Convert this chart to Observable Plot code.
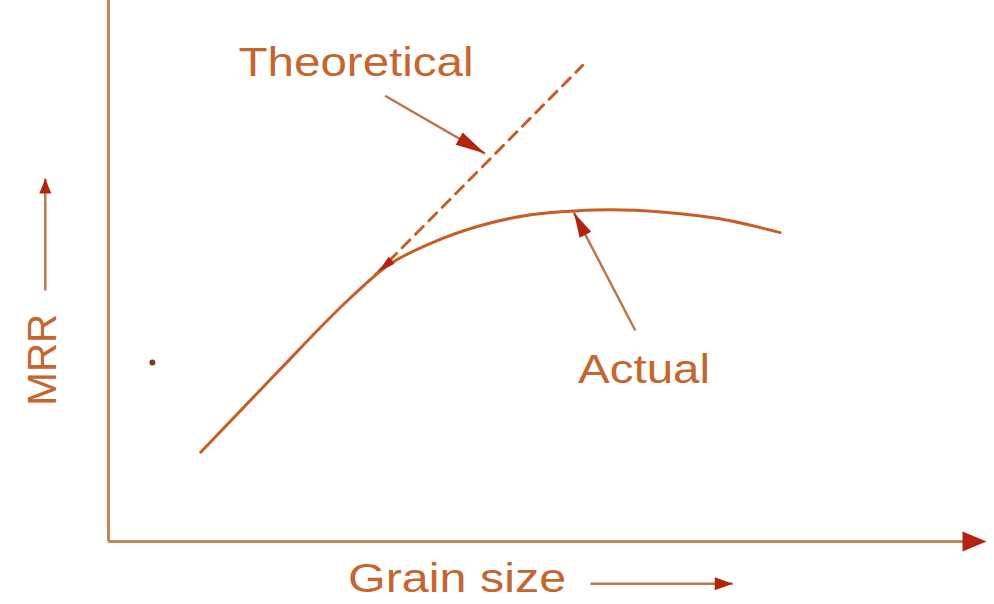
<!DOCTYPE html>
<html>
<head>
<meta charset="utf-8">
<script src="https://cdn.jsdelivr.net/npm/d3@7"></script>
<script src="https://cdn.jsdelivr.net/npm/@observablehq/plot@0.6"></script>
<style>
  body { margin: 0; background: #ffffff; }
  #chart { width: 994px; height: 604px; }
</style>
</head>
<body>
<div id="chart"></div>
<script>
// MRR against grain size, both in arbitrary units (0–100)
const grainSize = [10.5, 19.0, 27.6, 31.6, 36.7, 42.4, 48.1, 53.2, 57.2, 63.0, 70.8, 76.5];
const mrrActual = [16.5, 30.9, 45.1, 50.8, 55.1, 58.4, 60.4, 61.1, 61.3, 60.9, 59.3, 57.1];

// theoretical (linear) trend, drawn dashed
const theoryGrain = [30.4, 54.0];
const theoryMrr = [49.3, 88.0];

// stray point
const pointGrain = [5.0];
const pointMrr = [33.1];

// callout arrows: tail (x1, y1) → tip (x2, y2)
const arrowNames = ["Theoretical", "Actual", "tangent", "xAxis", "grainLabel", "mrrLabel"];
const arrowX1 = [31.5, 60.0, 32.4, 0, 54.9, -7.2];
const arrowY1 = [82.4, 39.0, 52.2, 0, -7.8, 46.4];
const arrowX2 = [42.9, 53.0, 30.7, 100, 71.1, -7.2];
const arrowY2 = [71.7, 60.8, 49.8, 0, -7.8, 67.1];

// text labels
const labelText = ["Theoretical", "Actual", "Grain size", "MRR"];
const labelX = [28.2, 61.0, 39.7, -7.4];
const labelY = [88.4, 31.6, -7.0, 33.6];

// ---- layout & style ----
const W = 994, H = 604;
const M = {top: 0, right: 8, bottom: 63, left: 108};
const kx = (W - M.left - M.right) / 100;
const ky = (H - M.top - M.bottom) / 100;

const curveColor = "#c55f28";
const axisColor = "#c4845a";
const shaftColor = "#bb7850";
const headColor = "#b3240e";
const textColor = "#c4662f";

const headStyle = {
  Theoretical: {len: 30, wid: 14},
  Actual: {len: 25, wid: 13},
  tangent: {len: 18, wid: 9},
  xAxis: {len: 24, wid: 20},
  grainLabel: {len: 18, wid: 13},
  mrrLabel: {len: 15, wid: 12}
};
const textWidth = {"Theoretical": 235, "Actual": 132, "Grain size": 218, "MRR": 92};

// build tables
const actual = grainSize.map((g, i) => ({g, m: mrrActual[i]}));
const theory = theoryGrain.map((g, i) => ({g, m: theoryMrr[i]}));
const arrows = arrowNames.map((name, i) => {
  const dx = (arrowX2[i] - arrowX1[i]) * kx;
  const dy = -(arrowY2[i] - arrowY1[i]) * ky;
  return {
    name,
    x1: arrowX1[i], y1: arrowY1[i], x2: arrowX2[i], y2: arrowY2[i],
    angle: Math.atan2(dx, -dy) * 180 / Math.PI
  };
});
const shafts = arrows.filter(a => a.name !== "tangent" && a.name !== "xAxis");
const labels = labelText.map((t, i) => ({t, x: labelX[i], y: labelY[i]}));
const points = pointGrain.map((g, i) => ({g, m: pointMrr[i]}));

// filled triangular arrowhead, tip at the origin pointing up
function headSymbol(len, wid) {
  return {
    draw(context) {
      context.moveTo(0, 0);
      context.lineTo(wid / 2, len);
      context.lineTo(-wid / 2, len);
      context.closePath();
    }
  };
}

const headMarks = arrows.map(a => {
  const s = headStyle[a.name];
  return Plot.dot([a], {
    x: "x2", y: "y2", rotate: "angle",
    symbol: headSymbol(s.len, s.wid), r: 5,
    fill: headColor, stroke: "none"
  });
});

const chart = Plot.plot({
  width: W, height: H,
  marginTop: M.top, marginRight: M.right, marginBottom: M.bottom, marginLeft: M.left,
  x: {domain: [0, 100], axis: null},
  y: {domain: [0, 100], axis: null},
  style: {background: "#ffffff", fontFamily: "'Liberation Sans', Arial, sans-serif", overflow: "visible"},
  marks: [
    // axes
    Plot.ruleX([0], {y1: 0, y2: 100, stroke: axisColor, strokeWidth: 3}),
    Plot.ruleY([0], {x1: 0, x2: 98, stroke: axisColor, strokeWidth: 3}),
    // theoretical trend
    Plot.line(theory, {x: "g", y: "m", stroke: curveColor, strokeWidth: 3, strokeDasharray: "11,8"}),
    // actual curve
    Plot.line(actual, {x: "g", y: "m", curve: "monotone-x", stroke: curveColor, strokeWidth: 3}),
    // arrow shafts
    Plot.link(shafts, {x1: "x1", y1: "y1", x2: "x2", y2: "y2", stroke: shaftColor, strokeWidth: 2.5}),
    ...headMarks,
    Plot.dot(points, {x: "g", y: "m", r: 3, fill: "#7a3b22", stroke: "none"}),
    // labels
    Plot.text(labels.filter(d => d.t !== "MRR"), {
      x: "x", y: "y", text: "t", fontSize: 40, fill: textColor, textAnchor: "middle", lineAnchor: "middle"
    }),
    Plot.text(labels.filter(d => d.t === "MRR"), {
      x: "x", y: "y", text: "t", fontSize: 40, fill: textColor, textAnchor: "middle", lineAnchor: "middle", rotate: -90
    })
  ]
});

// widen the labels to their drawn lengths
d3.select(chart).selectAll("text").each(function () {
  const w = textWidth[this.textContent];
  if (w) {
    this.setAttribute("textLength", w);
    this.setAttribute("lengthAdjust", "spacingAndGlyphs");
  }
});

document.getElementById("chart").appendChild(chart);
</script>
</body>
</html>
